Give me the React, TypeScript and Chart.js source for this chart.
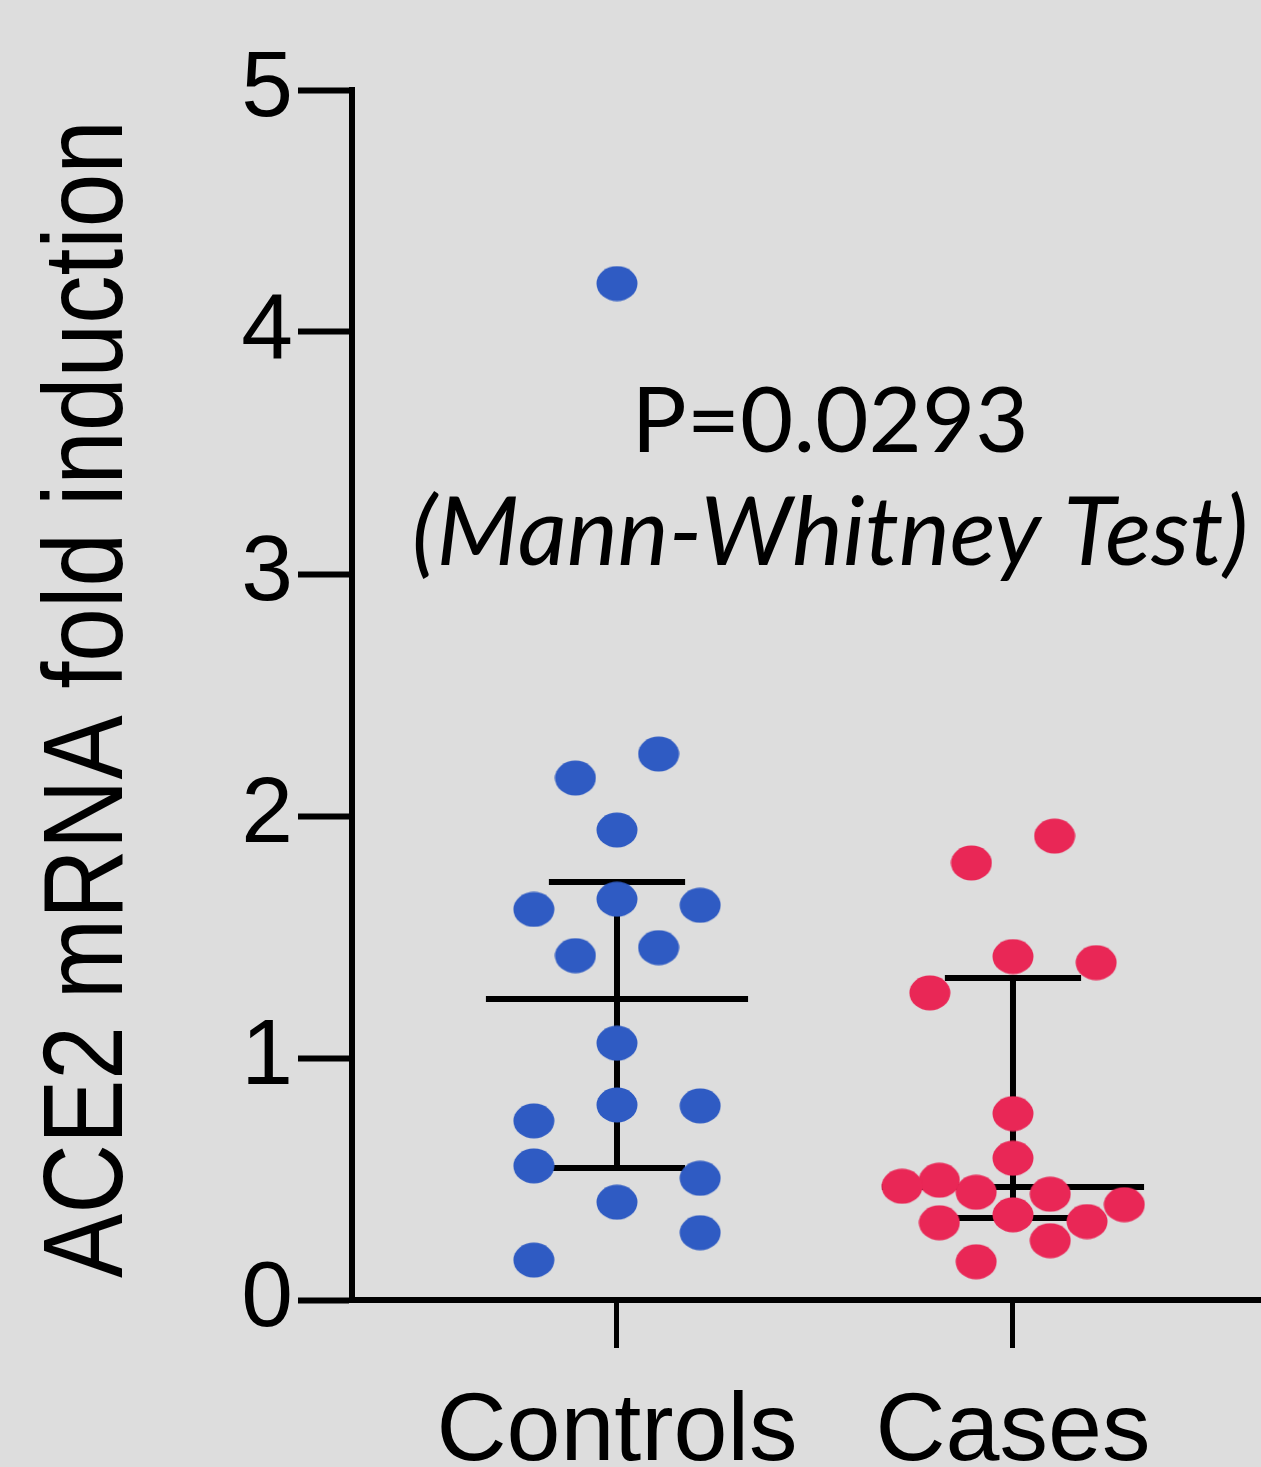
import React, { useEffect, useRef } from 'react';
import { Chart, registerables } from 'chart.js';

Chart.register(...registerables);

// ---- data ----
const categories = ['Controls', 'Cases'];
const controlsValues = [4.2, 2.256, 2.157, 1.942, 1.656, 1.631, 1.614, 1.456, 1.423, 1.061, 0.806, 0.802, 0.74, 0.554, 0.503, 0.404, 0.278, 0.165];
const controlsJitter = [0, 0.105, -0.105, 0, 0, 0.21, -0.21, 0.105, -0.105, 0, 0, 0.21, -0.21, -0.21, 0.21, 0, 0.21, -0.21];
const casesValues = [1.917, 1.806, 1.419, 1.394, 1.269, 0.77, 0.586, 0.495, 0.47, 0.445, 0.437, 0.394, 0.352, 0.324, 0.319, 0.245, 0.158];
const casesJitter = [0.105, -0.105, 0, 0.21, -0.21, 0, 0, -0.186, -0.28, -0.093, 0.094, 0.281, 0, 0.187, -0.186, 0.094, -0.093];
const medians = [1.244, 0.467];
const q1 = [0.545, 0.339];
const q3 = [1.727, 1.331];
const yTicks = [0, 1, 2, 3, 4, 5];
const yTitle = 'ACE2 mRNA fold induction';
const pValueText = 'P=0.0293';
const testText = '(Mann-Whitney Test)';

// ---- styles ----
const BG = '#dddddd';
const BLUE = '#2f5bc3';
const RED = '#e92756';
const SANS = "'Liberation Sans', Arial, Helvetica, sans-serif";
const ANNOT = "Lato, 'Liberation Sans', sans-serif";
const MEDIAN_HALF = 0.331;
const CAP_HALF = 0.172;
const LINE_W = 6;

const textPlugin = {
  id: 'extraText',
  afterDraw(chart: any) {
    const { ctx, scales, chartArea } = chart;
    const x = scales.x.getPixelForValue(1.538);
    ctx.save();
    ctx.fillStyle = '#000';
    ctx.textAlign = 'center';
    ctx.textBaseline = 'alphabetic';
    ctx.font = `92px ${ANNOT}`;
    ctx.fillText(pValueText, x, scales.y.getPixelForValue(3.504));
    ctx.font = `italic 96px ${ANNOT}`;
    ctx.fillText(testText, x, scales.y.getPixelForValue(3.037));
    ctx.restore();

    // rotated y-axis title
    ctx.save();
    ctx.translate(122, (chartArea.top + chartArea.bottom) / 2 + 4);
    ctx.rotate(-Math.PI / 2);
    ctx.fillStyle = '#000';
    ctx.textAlign = 'center';
    ctx.textBaseline = 'alphabetic';
    ctx.font = `114px ${SANS}`;
    ctx.fillText(yTitle, 0, 0, 1158);
    ctx.restore();
  },
};

function makeDot(color: string) {
  const c = document.createElement('canvas');
  c.width = 42;
  c.height = 36;
  const g = c.getContext('2d')!;
  g.fillStyle = color;
  g.beginPath();
  g.ellipse(21, 18, 20.5, 17.5, 0, 0, Math.PI * 2);
  g.fill();
  return c;
}

function seg(x1: number, y1: number, x2: number, y2: number) {
  return {
    type: 'scatter' as const,
    data: [{ x: x1, y: y1 }, { x: x2, y: y2 }],
    showLine: true,
    borderColor: '#000',
    borderWidth: LINE_W,
    borderCapStyle: 'butt' as const,
    pointRadius: 0,
    order: 1,
  };
}

export default function App() {
  const ref = useRef<HTMLCanvasElement>(null);

  useEffect(() => {
    document.body.style.margin = '0';
    document.body.style.background = BG;
    if (!ref.current) return;

    const lineSets: any[] = [];
    categories.forEach((_, i) => {
      const cx = i + 1;
      lineSets.push(seg(cx - MEDIAN_HALF, medians[i], cx + MEDIAN_HALF, medians[i]));
      lineSets.push(seg(cx - CAP_HALF, q3[i], cx + CAP_HALF, q3[i]));
      lineSets.push(seg(cx - CAP_HALF, q1[i], cx + CAP_HALF, q1[i]));
      lineSets.push(seg(cx, q1[i], cx, q3[i]));
    });

    const chart = new Chart(ref.current, {
      type: 'scatter',
      data: {
        datasets: [
          {
            label: categories[0],
            data: controlsValues.map((v, i) => ({ x: 1 + controlsJitter[i], y: v })),
            pointStyle: makeDot(BLUE) as any,
            pointRadius: 20,
            backgroundColor: BLUE,
            order: 0,
          },
          {
            label: categories[1],
            data: casesValues.map((v, i) => ({ x: 2 + casesJitter[i], y: v })),
            pointStyle: makeDot(RED) as any,
            pointRadius: 20,
            backgroundColor: RED,
            order: 0,
          },
          ...lineSets,
        ],
      },
      options: {
        animation: false,
        responsive: false,
        events: [],
        layout: { autoPadding: false, padding: { top: 90, left: 0, right: 0, bottom: 0 } },
        plugins: { legend: { display: false }, tooltip: { enabled: false } },
        scales: {
          x: {
            type: 'linear',
            min: 0.3308,
            max: 2.6263,
            afterBuildTicks: (s: any) => {
              s.ticks = categories.map((_, i) => ({ value: i + 1 }));
            },
            afterFit: (s: any) => {
              s.height = 167;
              s.paddingLeft = 0;
              s.paddingRight = 0;
            },
            grid: {
              display: true,
              drawOnChartArea: false,
              drawTicks: true,
              tickLength: 48,
              tickWidth: 5,
              tickColor: '#000',
            },
            border: { display: true, width: LINE_W, color: '#000' },
            ticks: {
              autoSkip: false,
              maxRotation: 0,
              minRotation: 0,
              padding: 37,
              color: '#000',
              font: { family: SANS, size: 97, lineHeight: 1 },
              callback: (v: any) => categories[Math.round(Number(v)) - 1] ?? '',
            },
          },
          y: {
            type: 'linear',
            min: 0,
            max: 5,
            afterBuildTicks: (s: any) => {
              s.ticks = yTicks.map((v) => ({ value: v }));
            },
            afterFit: (s: any) => {
              s.width = 352;
            },
            grid: {
              display: true,
              drawOnChartArea: false,
              drawTicks: true,
              tickLength: 54,
              tickWidth: 6,
              tickColor: '#000',
            },
            border: { display: true, width: LINE_W, color: '#000' },
            ticks: {
              padding: 5,
              color: '#000',
              font: { family: SANS, size: 93, lineHeight: 1 },
            },
            title: { display: false },
          },
        },
      },
      plugins: [textPlugin],
    });

    return () => chart.destroy();
  }, []);

  return (
    <div style={{ width: 1261, height: 1467, background: BG, position: 'absolute', left: 0, top: 0 }}>
      <canvas ref={ref} width={1261} height={1467} style={{ display: 'block', width: 1261, height: 1467 }} />
    </div>
  );
}
